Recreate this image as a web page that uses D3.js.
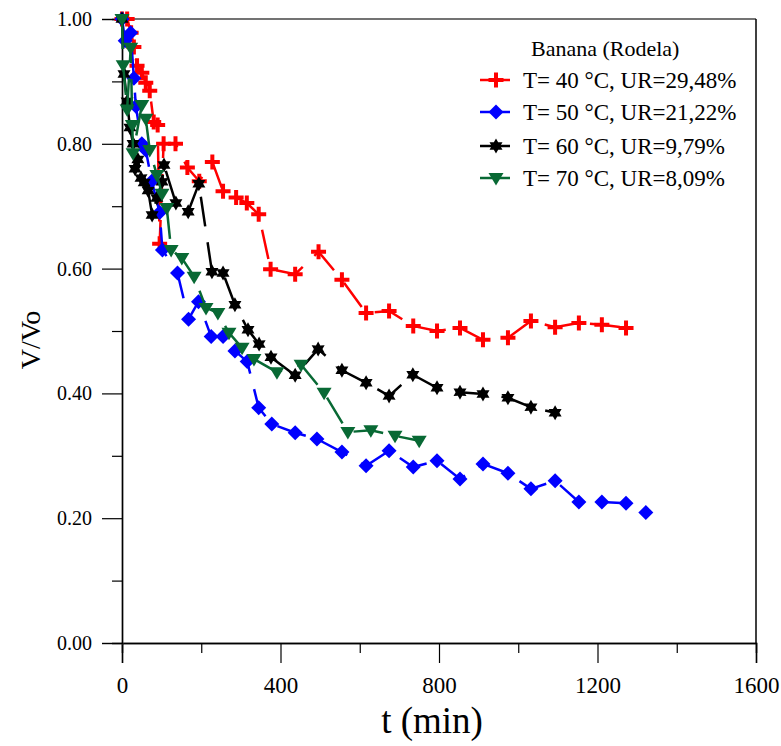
<!DOCTYPE html>
<html>
<head>
<meta charset="utf-8">
<script src="https://cdn.jsdelivr.net/npm/d3@7"></script>
<style>
  body { margin: 0; background: #fff; }
  svg text { font-family: "Liberation Serif", "DejaVu Serif", serif; }
</style>
</head>
<body>
<script>
// Data: t (min) and V/Vo for each run
const t40 = [0, 13, 23, 30, 38, 50, 60, 70, 80, 90, 95, 105, 135, 165, 195, 228, 255, 288, 315, 345, 375, 437, 496, 555, 616, 674, 735, 795, 853, 911, 974, 1032, 1093, 1153, 1211, 1272];
const v40 = [1.000, 1.000, 0.978, 0.955, 0.925, 0.914, 0.898, 0.885, 0.835, 0.830, 0.640, 0.800, 0.800, 0.762, 0.740, 0.771, 0.724, 0.714, 0.705, 0.687, 0.599, 0.591, 0.627, 0.582, 0.529, 0.532, 0.508, 0.500, 0.505, 0.486, 0.489, 0.516, 0.506, 0.513, 0.510, 0.505];

const t50 = [0, 8, 22, 30, 35, 50, 60, 75, 95, 102, 140, 168, 193, 225, 255, 285, 316, 345, 378, 437, 492, 555, 616, 674, 735, 795, 853, 911, 974, 1032, 1093, 1153, 1211, 1272, 1322];
const v50 = [1.000, 0.965, 0.978, 0.905, 0.860, 0.800, 0.790, 0.740, 0.690, 0.630, 0.593, 0.519, 0.547, 0.491, 0.491, 0.468, 0.451, 0.377, 0.351, 0.337, 0.327, 0.306, 0.284, 0.308, 0.282, 0.292, 0.263, 0.287, 0.272, 0.247, 0.260, 0.226, 0.226, 0.224, 0.209];

const t60 = [0, 5, 13, 20, 28, 33, 40, 48, 56, 66, 76, 88, 101, 106, 136, 167, 194, 227, 255, 285, 318, 346, 376, 437, 495, 555, 616, 674, 734, 795, 853, 911, 974, 1032, 1093];
const v60 = [1.000, 0.912, 0.868, 0.826, 0.800, 0.760, 0.775, 0.745, 0.738, 0.725, 0.686, 0.713, 0.739, 0.766, 0.705, 0.691, 0.736, 0.595, 0.593, 0.542, 0.502, 0.479, 0.458, 0.429, 0.471, 0.437, 0.417, 0.396, 0.430, 0.409, 0.402, 0.399, 0.393, 0.378, 0.369];

const t70 = [0, 3, 13, 22, 26, 28, 50, 60, 70, 88, 101, 113, 124, 151, 182, 212, 242, 270, 303, 333, 391, 452, 510, 570, 628, 689, 750];
const v70 = [1.000, 0.926, 0.855, 0.954, 0.830, 0.785, 0.862, 0.840, 0.790, 0.750, 0.720, 0.697, 0.630, 0.617, 0.587, 0.537, 0.529, 0.497, 0.473, 0.455, 0.434, 0.446, 0.401, 0.338, 0.341, 0.332, 0.324];

const seriesNames = ["T= 40 °C, UR=29,48%", "T= 50 °C, UR=21,22%", "T= 60 °C, UR=9,79%", "T= 70 °C, UR=8,09%"];
const seriesColors = ["#ff0000", "#0000ff", "#000000", "#086934"];
const legendTitle = "Banana (Rodela)";

const xTicks = [0, 400, 800, 1200, 1600];
const yTicks = [0, 0.2, 0.4, 0.6, 0.8, 1.0];

// marker shapes
function starPath(ro, ri) {
    let p = "";
    for (let i = 0; i < 12; i++) {
        let r = i % 2 == 0 ? ro : ri;
        let a = Math.PI / 6 * i - Math.PI / 2;
        p += (i == 0 ? "M" : "L") + (r * Math.cos(a)).toFixed(2) + "," + (r * Math.sin(a)).toFixed(2);
    }
    return p + "Z";
}
const markers = [
    "M-7.5,-2H-2V-7.5H2V-2H7.5V2H2V7.5H-2V2H-7.5Z",
    "M0,-7.5L7.5,0L0,7.5L-7.5,0Z",
    starPath(7.5, 4.3),
    "M-7.5,-5L7.5,-5L0,7.5Z"
];

function main() {
    const svgwidth = 781;
    const svgheight = 746;
    const left = 122, right = 756, top = 19, bottom = 643;
    const serif = '"Liberation Serif", "DejaVu Serif", serif';

    let svg = d3.select("body").append("svg")
        .attr("width", svgwidth)
        .attr("height", svgheight)

    let xScale = d3.scaleLinear().domain([0, 1600]).range([left, right])
    let yScale = d3.scaleLinear().domain([0, 1]).range([bottom, top])

    // frame
    svg.append("line").attr("x1", left).attr("x2", right).attr("y1", top).attr("y2", top)
        .attr("stroke", "#444").attr("stroke-width", 1.5)
    svg.append("line").attr("x1", right).attr("x2", right).attr("y1", top).attr("y2", bottom)
        .attr("stroke", "#000").attr("stroke-width", 1.5)

    // axes
    let xAxis = d3.axisBottom(xScale).tickValues(xTicks).tickSize(20).tickPadding(12).tickFormat(d3.format("d"))
    let gx = svg.append("g").attr("transform", `translate(0, ${bottom})`).call(xAxis)
    let xMinor = d3.axisBottom(xScale).tickValues([200, 600, 1000, 1400]).tickSize(10).tickFormat("")
    svg.append("g").attr("transform", `translate(0, ${bottom})`).call(xMinor)

    let yAxis = d3.axisLeft(yScale).tickValues(yTicks).tickSize(20).tickPadding(10).tickFormat(d3.format(".2f"))
    let gy = svg.append("g").attr("transform", `translate(${left}, 0)`).call(yAxis)
    let yMinor = d3.axisLeft(yScale).tickValues([0.1, 0.3, 0.5, 0.7, 0.9]).tickSize(10).tickFormat("")
    svg.append("g").attr("transform", `translate(${left}, 0)`).call(yMinor)

    svg.selectAll("g").attr("font-family", serif)
    svg.selectAll(".domain").attr("stroke", "#000").attr("stroke-width", 1.5)
    svg.selectAll(".tick line").attr("stroke", "#000").attr("stroke-width", 1.2)
    gy.select(".domain").attr("stroke", "#777")
    gy.selectAll(".tick text").style("font-size", "20px").attr("fill", "#000")
    gx.selectAll(".tick text").style("font-size", "23px").attr("fill", "#000").attr("dy", "0.8em")

    // axis titles
    svg.append("text").attr("x", 432).attr("y", 733).attr("text-anchor", "middle")
        .style("font-size", "37px").text("t (min)")
    svg.append("text").attr("transform", "translate(40, 340) rotate(-90)")
        .attr("text-anchor", "middle").style("font-size", "28px").text("V/Vo")

    // series
    const allT = [t40, t50, t60, t70];
    const allV = [v40, v50, v60, v70];
    let line = d3.line().x(d => xScale(d[0])).y(d => yScale(d[1]))

    allT.forEach((ts, i) => {
        let pts = ts.map((t, j) => [t, allV[i][j]]);
        svg.append("path").datum(pts)
            .attr("d", line)
            .attr("fill", "none")
            .attr("stroke", seriesColors[i])
            .attr("stroke-width", 2.5)
            .attr("stroke-dasharray", "30,16")
        svg.selectAll(".pt" + i)
            .data(pts).enter()
                .append("path")
            .attr("class", "pt" + i)
            .attr("d", markers[i])
            .attr("transform", d => `translate(${xScale(d[0])}, ${yScale(d[1])})`)
            .attr("fill", seriesColors[i])
    });

    // legend
    svg.append("text").attr("x", 531).attr("y", 56).style("font-size", "22px").text(legendTitle)
    const legY = [80, 112, 146, 178];
    seriesNames.forEach((name, i) => {
        let g = svg.append("g").attr("transform", `translate(496, ${legY[i]})`)
        g.append("line").attr("x1", -16).attr("x2", 14).attr("y1", 0).attr("y2", 0)
            .attr("stroke", seriesColors[i]).attr("stroke-width", 2.5)
        g.append("path").attr("d", markers[i]).attr("fill", seriesColors[i])
        svg.append("text").attr("x", 523).attr("y", legY[i] + 8).style("font-size", "23px").text(name)
    });
}

main()
</script>
</body>
</html>
